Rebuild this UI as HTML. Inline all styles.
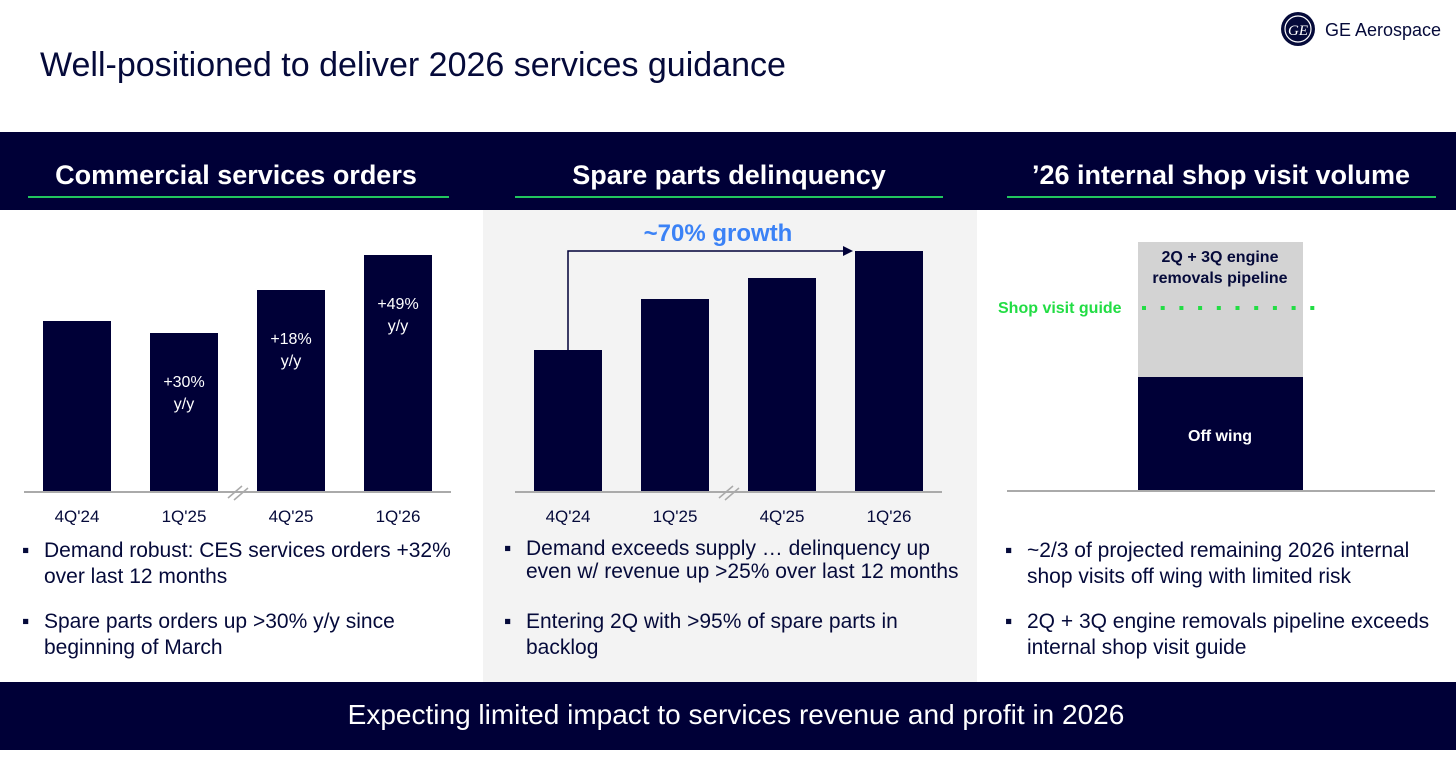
<!DOCTYPE html>
<html><head><meta charset="utf-8">
<style>
body{margin:0;width:1456px;height:773px;overflow:hidden;background:#fff;font-family:"Liberation Sans",Arial,sans-serif;}
svg{display:block}
</style></head>
<body>
<svg id="s" width="1456" height="773" xmlns="http://www.w3.org/2000/svg" font-family="Liberation Sans, Arial, sans-serif">
 <g>
  <circle cx="1298" cy="29" r="17" fill="#050a3a"/>
  <circle cx="1298" cy="29" r="13" fill="none" stroke="#fff" stroke-width="1.2"/>
  <text x="1298" y="35" font-size="15" fill="#fff" text-anchor="middle" font-style="italic" font-family="Liberation Serif, serif">GE</text>
  <text x="1325" y="36" font-size="18" fill="#050a3a">GE Aerospace</text>
 </g>
 <text x="40" y="76" font-size="34" fill="#050a3a">Well-positioned to deliver 2026 services guidance</text>
 <rect x="0" y="132" width="1456" height="78" fill="#000037"/>
 <rect x="483" y="210" width="494" height="472" fill="#f3f3f3"/>
 <text x="236" y="184" font-size="27" font-weight="bold" fill="#fff" text-anchor="middle">Commercial services orders</text>
 <text x="729" y="184" font-size="27" font-weight="bold" fill="#fff" text-anchor="middle">Spare parts delinquency</text>
 <text x="1221" y="184" font-size="27" font-weight="bold" fill="#fff" text-anchor="middle">’26 internal shop visit volume</text>
 <rect x="28" y="196" width="421" height="2" fill="#22c55e"/>
 <rect x="515" y="196" width="428" height="2" fill="#22c55e"/>
 <rect x="1007" y="196" width="429" height="2" fill="#22c55e"/>
 <g id="c1"></g>
 <g id="c2"></g>
 <g id="c3">
  <rect x="1138" y="242" width="165" height="135" fill="#d3d3d3"/>
  <rect x="1138" y="377" width="165" height="114" fill="#000037"/>
  <line x1="1007" y1="491" x2="1435" y2="491" stroke="#aaa" stroke-width="2"/>
  <text x="1220" y="262" font-size="16" font-weight="bold" fill="#050a3a" text-anchor="middle">2Q + 3Q engine</text>
  <text x="1220" y="283" font-size="16" font-weight="bold" fill="#050a3a" text-anchor="middle">removals pipeline</text>
  <text x="1220" y="441" font-size="16" font-weight="bold" fill="#fff" text-anchor="middle">Off wing</text>
  <line x1="1142" y1="308" x2="1316" y2="308" stroke="#22dd44" stroke-width="4" stroke-dasharray="4 14.7"/>
  <text x="998" y="313" font-size="16" font-weight="bold" fill="#22dd44">Shop visit guide</text>
 </g>
 <g font-size="21" fill="#050a3a">
  <text x="22" y="557">▪</text><text x="44" y="557">Demand robust: CES services orders +32%</text><text x="44" y="583">over last 12 months</text>
  <text x="22" y="628">▪</text><text x="44" y="628">Spare parts orders up &gt;30% y/y since</text><text x="44" y="654">beginning of March</text>
  <text x="504" y="555">▪</text><text x="526" y="555">Demand exceeds supply … delinquency up</text><text x="526" y="578">even w/ revenue up &gt;25% over last 12 months</text>
  <text x="504" y="628">▪</text><text x="526" y="628">Entering 2Q with &gt;95% of spare parts in</text><text x="526" y="654">backlog</text>
  <text x="1005" y="557">▪</text><text x="1027" y="557">~2/3 of projected remaining 2026 internal</text><text x="1027" y="583">shop visits off wing with limited risk</text>
  <text x="1005" y="628">▪</text><text x="1027" y="628">2Q + 3Q engine removals pipeline exceeds</text><text x="1027" y="654">internal shop visit guide</text>
 </g>
 <rect x="0" y="682" width="1456" height="68" fill="#000037"/>
 <text x="736" y="724" font-size="28" fill="#fff" text-anchor="middle">Expecting limited impact to services revenue and profit in 2026</text>
</svg>
<script>
const categories=["4Q'24","1Q'25","4Q'25","1Q'26"];
const ordersValues=[171,159,202,237];
const ordersLabels=["","+30%","+18%","+49%"];
const delinquencyValues=[142,193,214,241];
const NS="http://www.w3.org/2000/svg";
function mk(t,a,p){const e=document.createElementNS(NS,t);for(const k in a)e.setAttribute(k,a[k]);p.appendChild(e);return e;}
function chart(g,x0,vals,labels,prefix){
  const base=492, bw=68, step=107;
  const xS=i=>x0+i*step, yS=v=>base-v;
  vals.forEach((v,i)=>{
    const r=mk('rect',{x:xS(i),y:yS(v),width:bw,height:v,fill:'#000037'},g);
    
    
    const t=mk('text',{x:xS(i)+bw/2,y:base+30,'font-size':17,fill:'#050a3a','text-anchor':'middle'},g);
    t.textContent=categories[i];
    
    
    if(labels&&labels[i]){
      const a=mk('text',{x:xS(i)+bw/2,y:yS(v)+54,'font-size':16,fill:'#fff','text-anchor':'middle'},g);a.textContent=labels[i];
      
      
      const b=mk('text',{x:xS(i)+bw/2,y:yS(v)+76,'font-size':16,fill:'#fff','text-anchor':'middle'},g);b.textContent='y/y';
    }
  });
  const ax=mk('line',{x1:x0-19,y1:base,x2:x0+3*step+bw+19,y2:base,stroke:'#aaa','stroke-width':2},g);
  
  
  const bx=xS(1)+bw+20;
  mk('line',{x1:bx-10,y1:base+6,x2:bx+4,y2:base-6,stroke:'#aaa','stroke-width':1.5},g);
  mk('line',{x1:bx-4,y1:base+8,x2:bx+10,y2:base-4,stroke:'#aaa','stroke-width':1.5},g);
  return {xS,yS,bw};
}
chart(document.getElementById('c1'),43,ordersValues,ordersLabels,'orders');
const c2=chart(document.getElementById('c2'),534,delinquencyValues,null,'delinquency');
const g2=document.getElementById('c2');
const ax0=c2.xS(0)+c2.bw/2, ay=c2.yS(delinquencyValues[3]);
const p=mk('path',{d:`M${ax0} ${c2.yS(delinquencyValues[0])} V${ay} H${c2.xS(3)-10}`,fill:'none',stroke:'#000037','stroke-width':1.5},g2);


mk('path',{d:`M${c2.xS(3)-12} ${ay-5} L${c2.xS(3)-2} ${ay} L${c2.xS(3)-12} ${ay+5}Z`,fill:'#000037'},g2);
const gt=mk('text',{x:718,y:241,'font-size':24,'font-weight':'bold',fill:'#3b82f6','text-anchor':'middle'},g2);
gt.textContent='~70% growth';


</script>
</body></html>
